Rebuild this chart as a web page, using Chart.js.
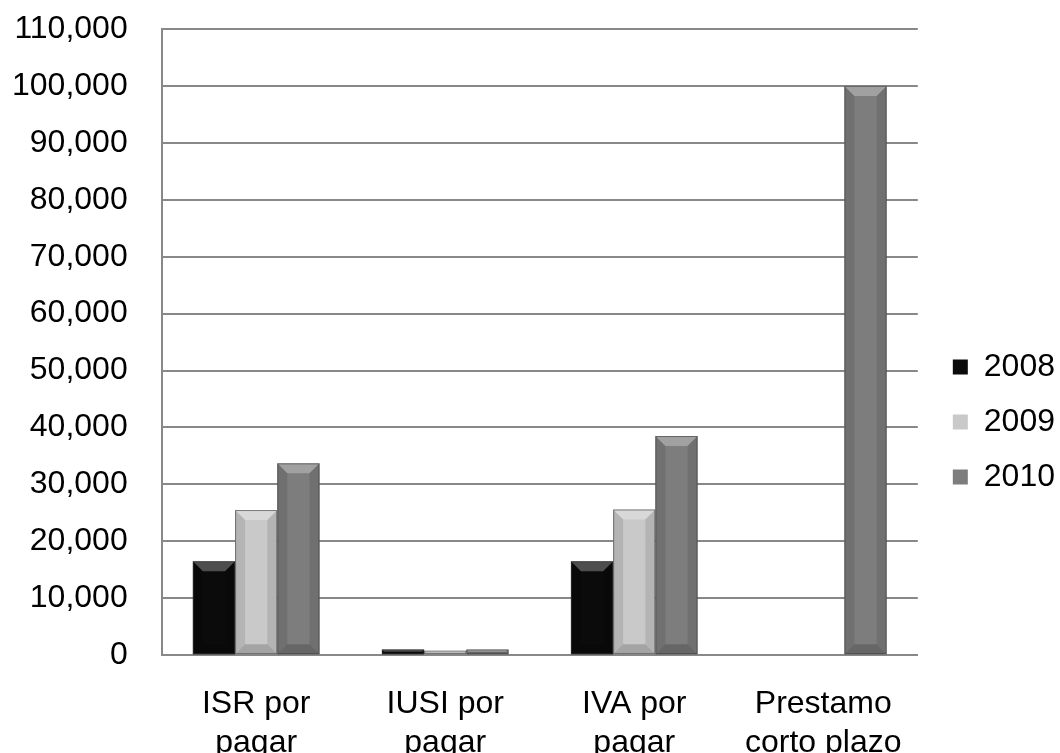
<!DOCTYPE html>
<html lang="es">
<head>
    <meta charset="UTF-8">
    <title>Pasivos por pagar</title>
    <script src="https://cdn.jsdelivr.net/npm/chart.js"></script>
    <style>
        html, body { margin: 0; padding: 0; background: #fff; overflow: hidden; }
        #wrap { width: 1070px; height: 784px; }
    </style>
</head>
<body>
    <div id="wrap"><canvas id="pasivosChart" width="1070" height="784"></canvas></div>

    <script>
        const categorias = [['ISR por', 'pagar'], ['IUSI por', 'pagar'], ['IVA por', 'pagar'], ['Prestamo', 'corto plazo']];
        const anios = ['2008', '2009', '2010'];
        const valores2008 = [16500, 1000, 16500, 0];
        const valores2009 = [25500, 800, 25600, 0];
        const valores2010 = [33700, 1000, 38500, 100000];
        const colores = ['#0b0b0b', '#c9c9c9', '#7d7d7d'];
        const fuente = 'Liberation Sans, Arial, sans-serif';

        // bevel effect on top of each bar, using the bar geometry from the chart
        const bevel = {
            id: 'bevel',
            afterDatasetsDraw(chart) {
                const ctx = chart.ctx;
                chart.data.datasets.forEach((ds, i) => {
                    const meta = chart.getDatasetMeta(i);
                    meta.data.forEach(bar => {
                        const h = bar.base - bar.y;
                        if (h <= 0) return;
                        const l = bar.x - bar.width / 2, r = bar.x + bar.width / 2;
                        const b = Math.min(10, h / 2);
                        ctx.save();
                        // top highlight
                        ctx.fillStyle = 'rgba(255,255,255,0.28)';
                        ctx.beginPath();
                        ctx.moveTo(l, bar.y); ctx.lineTo(r, bar.y);
                        ctx.lineTo(r - b, bar.y + b); ctx.lineTo(l + b, bar.y + b);
                        ctx.closePath(); ctx.fill();
                        // sides
                        ctx.fillStyle = 'rgba(0,0,0,0.10)';
                        ctx.beginPath();
                        ctx.moveTo(l, bar.y); ctx.lineTo(l + b, bar.y + b);
                        ctx.lineTo(l + b, bar.base - b); ctx.lineTo(l, bar.base);
                        ctx.closePath(); ctx.fill();
                        ctx.beginPath();
                        ctx.moveTo(r, bar.y); ctx.lineTo(r - b, bar.y + b);
                        ctx.lineTo(r - b, bar.base - b); ctx.lineTo(r, bar.base);
                        ctx.closePath(); ctx.fill();
                        // bottom
                        ctx.fillStyle = 'rgba(0,0,0,0.18)';
                        ctx.beginPath();
                        ctx.moveTo(l, bar.base); ctx.lineTo(l + b, bar.base - b);
                        ctx.lineTo(r - b, bar.base - b); ctx.lineTo(r, bar.base);
                        ctx.closePath(); ctx.fill();
                        ctx.strokeStyle = 'rgba(60,60,60,0.6)';
                        ctx.lineWidth = 1;
                        ctx.strokeRect(l + 0.5, bar.y + 0.5, bar.width - 1, h - 1);
                        ctx.restore();
                    });
                });
            }
        };

        const ctx = document.getElementById('pasivosChart').getContext('2d');
        new Chart(ctx, {
            type: 'bar',
            data: {
                labels: categorias,
                datasets: [
                    { label: anios[0], data: valores2008, backgroundColor: colores[0] },
                    { label: anios[1], data: valores2009, backgroundColor: colores[1] },
                    { label: anios[2], data: valores2010, backgroundColor: colores[2] }
                ]
            },
            options: {
                responsive: false,
                animation: false,
                layout: { padding: { top: 29, left: 8, right: 5 } },
                datasets: { bar: { barPercentage: 1, categoryPercentage: 0.67 } },
                plugins: {
                    legend: {
                        position: 'right',
                        title: { display: true, text: ' ', font: { size: 1 }, padding: { top: 15, bottom: 15 } },
                        labels: {
                            color: '#000',
                            boxWidth: 15,
                            boxHeight: 15,
                            padding: 23,
                            font: { family: fuente, size: 32 }
                        }
                    },
                    tooltip: { enabled: false }
                },
                scales: {
                    x: {
                        grid: { display: false },
                        border: { color: '#888', width: 2 },
                        ticks: {
                            color: '#000',
                            padding: 22,
                            maxRotation: 0,
                            font: { family: fuente, size: 32, lineHeight: 1.2 }
                        }
                    },
                    y: {
                        min: 0,
                        max: 110000,
                        ticks: {
                            stepSize: 10000,
                            color: '#000',
                            padding: 4,
                            font: { family: fuente, size: 32 },
                            callback: v => v.toLocaleString('en-US')
                        },
                        // invisible tick marks keep the labels away from the axis
                        grid: { color: '#888', lineWidth: 2, drawTicks: true, tickLength: 30, tickColor: 'rgba(0,0,0,0)' },
                        border: { color: '#888', width: 2 }
                    },
                    // empty right-hand axis, only a gap between the plot and the legend
                    gap: {
                        position: 'right',
                        grid: { display: false },
                        border: { display: false },
                        ticks: { display: false },
                        afterFit: scale => { scale.width = 12; }
                    }
                }
            },
            plugins: [bevel]
        });
    </script>
</body>
</html>
